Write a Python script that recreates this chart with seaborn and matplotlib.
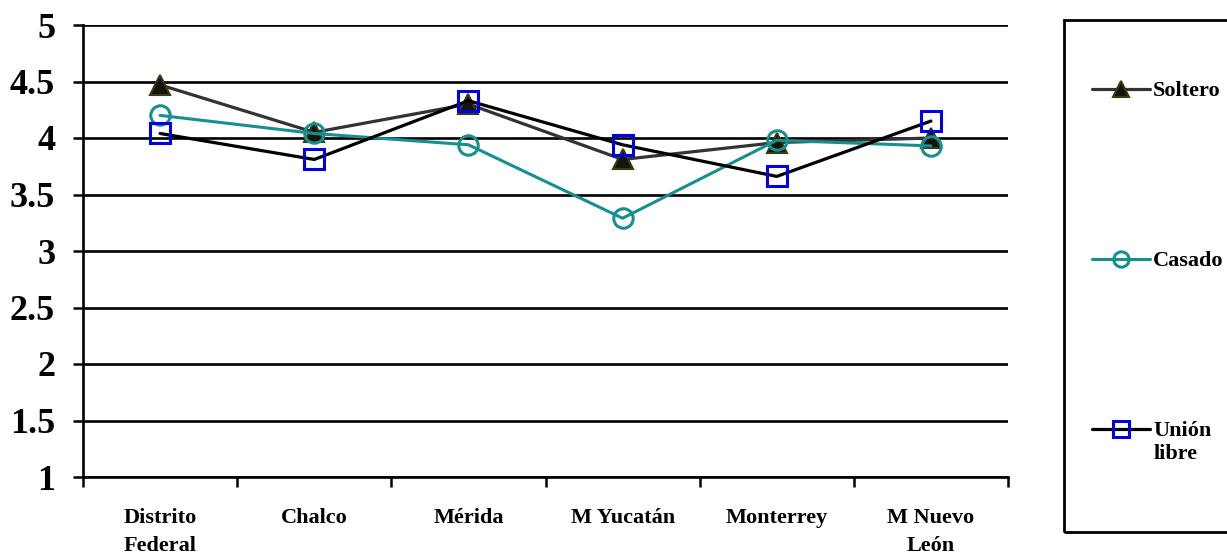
import matplotlib
matplotlib.use("Agg")
import matplotlib.pyplot as plt
import seaborn as sns
import pandas as pd
from matplotlib.patches import Rectangle

# Data
cities = ["Distrito\nFederal", "Chalco", "Mérida", "M Yucatán", "Monterrey", "M Nuevo\nLeón"]
soltero = [4.47, 4.05, 4.30, 3.81, 3.96, 4.00]
casado = [4.20, 4.04, 3.94, 3.29, 3.98, 3.93]
union_libre = [4.04, 3.81, 4.33, 3.94, 3.66, 4.15]
y_ticks = [1, 1.5, 2, 2.5, 3, 3.5, 4, 4.5, 5]
y_tick_labels = ["1", "1.5", "2", "2.5", "3", "3.5", "4", "4.5", "5"]

sns.set_theme(style="white")
plt.rcParams["font.family"] = ["Liberation Serif", "DejaVu Serif"]
plt.rcParams["font.weight"] = "bold"
plt.rcParams["text.color"] = "black"
plt.rcParams["xtick.color"] = "black"
plt.rcParams["ytick.color"] = "black"
plt.rcParams["xtick.labelcolor"] = "black"
plt.rcParams["ytick.labelcolor"] = "black"

fig = plt.figure(figsize=(12.27, 5.55), dpi=100)
ax = fig.add_axes([83 / 1227, 1 - 477 / 555, (1008 - 83) / 1227, (477 - 25) / 555])

styles = [
    ("Soltero", soltero, dict(color="#333333", marker="^", mfc="#14140a", mec="#3a3a12", ms=14, mew=1.5, lw=2.3)),
    ("Casado", casado, dict(color="#178f8f", marker="o", mfc="none", mec="#178f8f", ms=14, mew=2.2, lw=2.2)),
    ("Unión\nlibre", union_libre, dict(color="#000000", marker="s", mfc="none", mec="#0000e6", ms=14, mew=2.2, lw=2.3)),
]

for name, vals, kw in styles:
    df = pd.DataFrame({"ciudad": cities, "valor": vals})
    sns.lineplot(data=df, x="ciudad", y="valor", ax=ax, label=name, sort=False, **kw)

ax.set_xlim(-0.5, len(cities) - 0.5)
ax.set_ylim(1, 5)
ax.set_xlabel("")
ax.set_ylabel("")

# Horizontal grid lines
ax.set_yticks(y_ticks)
ax.set_yticklabels(y_tick_labels, fontsize=26, fontweight="bold", color="black")
for y in y_ticks:
    ax.axhline(y, color="black", lw=1.9, zorder=0.5)

# Category labels at centers, tick marks at boundaries
ax.set_xticks(range(len(cities)))
ax.set_xticklabels(cities, fontsize=16, fontweight="bold", linespacing=1.55, color="black")
ax.set_xticks([i - 0.5 for i in range(len(cities) + 1)], minor=True)
ax.tick_params(axis="x", which="major", length=0, pad=22, colors="black")
ax.tick_params(axis="x", which="minor", length=7, width=1.8, color="black", bottom=True)
ax.tick_params(axis="y", which="major", length=7, width=1.8, color="black", left=True, pad=13)

for side in ["top", "right"]:
    ax.spines[side].set_visible(False)
ax.spines["left"].set_color("black")
ax.spines["left"].set_linewidth(1.9)
ax.spines["bottom"].set_color("black")
ax.spines["bottom"].set_linewidth(1.9)

# Legend in a tall box on the right
handles, labels = ax.get_legend_handles_labels()
ax.get_legend().remove()
fig.patches.append(Rectangle((1064 / 1227, 1 - 532 / 555), 0.2, (532 - 20) / 555,
                             transform=fig.transFigure, fill=False, ec="black", lw=2))
leg = fig.legend(handles, labels, loc="upper left", bbox_to_anchor=(1081 / 1227, 1 - 70 / 555),
                 frameon=False, prop={"family": "Liberation Serif", "weight": "bold", "size": 16},
                 handlelength=2.6, handletextpad=0.15, labelspacing=6.75, borderpad=0,
                 labelcolor="black")
for col in leg._legend_handle_box.get_children():
    for row in col.get_children():
        row.align = "top"
for h in leg.legend_handles:
    h.set_markersize(11)

fig.savefig("out.png", dpi=100, facecolor="white")
